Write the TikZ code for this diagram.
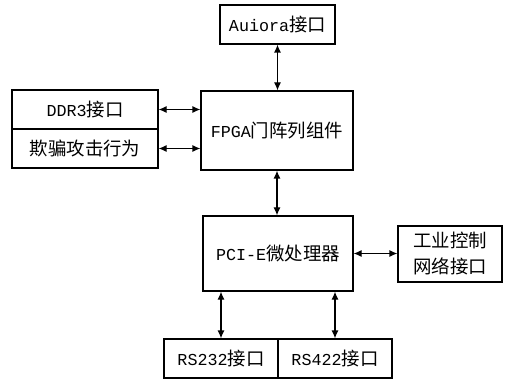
\documentclass[tikz,border=0pt]{standalone}
\usepackage{fontspec}
\setmainfont{Liberation Mono}[Scale=0.88]
\newfontfamily\cjk{Noto Sans CJK SC}[Scale=0.97]
\usetikzlibrary{arrows.meta}
\newcommand{\zh}[1]{{\cjk #1}}
\tikzset{
  box/.style={draw, line width=1.2pt, minimum width=#1, inner sep=0pt, align=center, font=\fontsize{19}{26}\selectfont},
  link/.style={line width=1.2pt, {Latex[length=8pt,width=7pt]}-{Latex[length=8pt,width=7pt]}}
}
\begin{document}
\begin{tikzpicture}[x=1pt,y=-1pt]
\useasboundingbox (0,0) rectangle (511,379);
\node[box=115pt, minimum height=39pt] (aur) at (277.5,24.5) {Auiora\zh{接口}};
\node[box=152pt, minimum height=79pt] (fpga) at (277,130.5) {FPGA\zh{门阵列组件}};
\node[box=146pt, minimum height=39pt] (ddr) at (85,109.5) {DDR3\zh{接口}};
\node[box=146pt, minimum height=39pt] (qp) at (85,148.5) {\zh{欺骗攻击行为}};
\node[box=150pt, minimum height=75pt] (pci) at (278,253.5) {PCI-E\zh{微处理器}};
\node[box=104pt, minimum height=56pt] (gy) at (450,254) {\zh{工业控制}\\\zh{网络接口}};
\node[box=114pt, minimum height=39pt] (rs1) at (221,358.5) {RS232\zh{接口}};
\node[box=114pt, minimum height=39pt] (rs2) at (335,358.5) {RS422\zh{接口}};
\draw[link] (aur.south) -- (fpga.north -| aur.south);
\draw[link] (ddr.east) -- (fpga.west |- ddr.east);
\draw[link] (qp.east) -- (fpga.west |- qp.east);
\draw[link] (fpga.south) -- (pci.north -| fpga.south);
\draw[link] (pci.east) -- (gy.west |- pci.east);
\draw[link] (rs1.north) -- (pci.south -| rs1.north);
\draw[link] (rs2.north) -- (pci.south -| rs2.north);
\end{tikzpicture}
\end{document}
